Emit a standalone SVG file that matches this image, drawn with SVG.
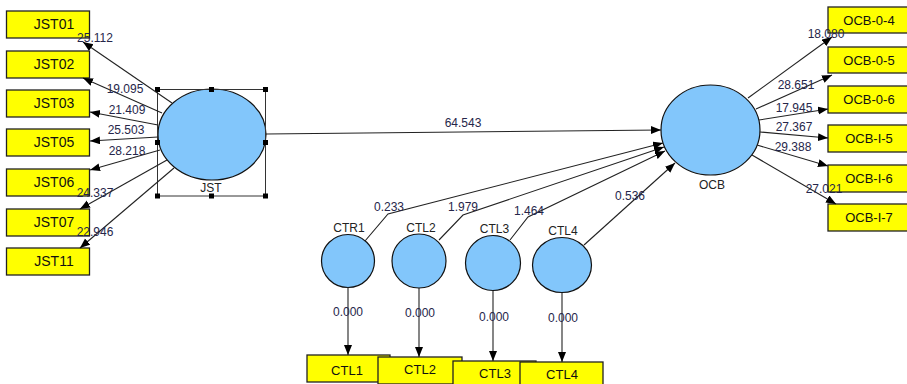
<svg xmlns="http://www.w3.org/2000/svg" width="907" height="384" viewBox="0 0 907 384">
<defs>
<marker id="ah" markerUnits="userSpaceOnUse" markerWidth="11" markerHeight="9" refX="10" refY="4" orient="auto">
<path d="M0,0 L10,4 L0,8 z" fill="#000"/>
</marker>
<style>
.box{fill:#ffff00;stroke:#222;stroke-width:1.3}
.lv{fill:#82c6fb;stroke:#111;stroke-width:1.2}
.bt{font-family:"Liberation Sans",Arial,sans-serif;font-size:13px;fill:#111;text-anchor:middle}
.jt{font-family:"Liberation Sans",Arial,sans-serif;font-size:14px;fill:#111;text-anchor:middle}
.lt{font-family:"Liberation Sans",Arial,sans-serif;font-size:12px;fill:#222;text-anchor:middle}
.nt{font-family:"Liberation Sans",Arial,sans-serif;font-size:12px;fill:#26264a;text-anchor:middle}
.ln{fill:none;stroke:#222;stroke-width:1.1;marker-end:url(#ah)}
.sel{fill:none;stroke:#333;stroke-width:1}
.hd{fill:#000}
</style>
</defs>
<rect width="907" height="384" fill="#fff"/>

<g id="JST01"><rect class="box" x="6.5" y="11" width="83" height="27"/><text class="jt" x="54" y="29">JST01</text></g>
<g id="JST02"><rect class="box" x="6.5" y="51" width="83" height="27"/><text class="jt" x="54" y="69">JST02</text></g>
<g id="JST03"><rect class="box" x="6.5" y="90" width="83" height="27"/><text class="jt" x="54" y="108">JST03</text></g>
<g id="JST05"><rect class="box" x="6.5" y="129" width="83" height="27"/><text class="jt" x="54" y="147">JST05</text></g>
<g id="JST06"><rect class="box" x="6.5" y="169" width="83" height="27"/><text class="jt" x="54" y="187">JST06</text></g>
<g id="JST07"><rect class="box" x="6.5" y="209" width="83" height="27"/><text class="jt" x="54" y="227">JST07</text></g>
<g id="JST11"><rect class="box" x="6.5" y="248" width="83" height="27"/><text class="jt" x="54" y="266">JST11</text></g>

<g id="JST">
<ellipse class="lv" cx="212" cy="134.5" rx="54" ry="45.5"/>
<rect class="sel" x="157.5" y="89.5" width="108" height="106.5"/>
<rect class="hd" x="155" y="87" width="5" height="5"/>
<rect class="hd" x="209" y="87" width="5" height="5"/>
<rect class="hd" x="263" y="87" width="5" height="5"/>
<rect class="hd" x="155" y="140" width="5" height="5"/>
<rect class="hd" x="263" y="140" width="5" height="5"/>
<rect class="hd" x="155" y="193.5" width="5" height="5"/>
<rect class="hd" x="209" y="193.5" width="5" height="5"/>
<rect class="hd" x="263" y="193.5" width="5" height="5"/>
<text class="lt" x="211" y="192">JST</text>
</g>

<g id="OCB">
<ellipse class="lv" cx="710.5" cy="130" rx="49.5" ry="45"/>
<text class="lt" x="712" y="189">OCB</text>
</g>

<g id="OCB-0-4"><rect class="box" x="828" y="7" width="82" height="26"/><text class="bt" x="869" y="25">OCB-0-4</text></g>
<g id="OCB-0-5"><rect class="box" x="828" y="47" width="82" height="26"/><text class="bt" x="869" y="65">OCB-0-5</text></g>
<g id="OCB-0-6"><rect class="box" x="828" y="86" width="82" height="27"/><text class="bt" x="869" y="104">OCB-0-6</text></g>
<g id="OCB-I-5"><rect class="box" x="828" y="125" width="82" height="27"/><text class="bt" x="869" y="143">OCB-I-5</text></g>
<g id="OCB-I-6"><rect class="box" x="828" y="165" width="82" height="27"/><text class="bt" x="869" y="183">OCB-I-6</text></g>
<g id="OCB-I-7"><rect class="box" x="828" y="204" width="82" height="27"/><text class="bt" x="869" y="222">OCB-I-7</text></g>

<g id="CTR1"><circle class="lv" cx="348" cy="261" r="26.5"/><text class="lt" x="349" y="232">CTR1</text></g>
<g id="CTL2"><ellipse class="lv" cx="419" cy="261" rx="27" ry="27"/><text class="lt" x="421" y="232">CTL2</text></g>
<g id="CTL3"><ellipse class="lv" cx="493" cy="263" rx="27.5" ry="27.5"/><text class="lt" x="494.5" y="233">CTL3</text></g>
<g id="CTL4"><ellipse class="lv" cx="562" cy="265" rx="29.5" ry="27.5"/><text class="lt" x="563" y="235">CTL4</text></g>

<g id="CTL1-box"><rect class="box" x="307" y="355" width="83" height="27"/><text class="bt" x="347" y="375">CTL1</text></g>
<g id="CTL2-box"><rect class="box" x="378" y="357" width="84" height="27"/><text class="bt" x="420" y="374">CTL2</text></g>
<g id="CTL3-box"><rect class="box" x="453" y="361" width="83" height="27"/><text class="bt" x="495" y="378">CTL3</text></g>
<g id="CTL4-box"><rect class="box" x="520" y="362" width="83" height="27"/><text class="bt" x="562" y="379">CTL4</text></g>

<g id="connectors">
<line class="ln" x1="172" y1="103" x2="83" y2="42"/>
<line class="ln" x1="162" y1="113" x2="83" y2="78"/>
<line class="ln" x1="158" y1="125" x2="90" y2="112"/>
<line class="ln" x1="158" y1="137" x2="90" y2="141"/>
<line class="ln" x1="160" y1="150" x2="90" y2="170"/>
<line class="ln" x1="167" y1="160" x2="80" y2="209"/>
<line class="ln" x1="174" y1="168" x2="80" y2="248"/>
<line class="ln" x1="266" y1="134" x2="661" y2="130"/>
<polyline class="ln" points="365,241 388,214 663,143"/>
<polyline class="ln" points="439,240 463,215 664,147"/>
<polyline class="ln" points="510,240 528,217 665,151"/>
<line class="ln" x1="584" y1="245" x2="675" y2="163"/>
<line class="ln" x1="748" y1="98" x2="832" y2="37"/>
<line class="ln" x1="756" y1="109" x2="832" y2="75"/>
<line class="ln" x1="759" y1="120" x2="828" y2="109"/>
<line class="ln" x1="760" y1="132" x2="828" y2="138"/>
<line class="ln" x1="757" y1="145" x2="828" y2="166"/>
<line class="ln" x1="752" y1="155" x2="836" y2="204"/>
<line class="ln" x1="348" y1="287" x2="348" y2="355"/>
<line class="ln" x1="419" y1="288" x2="419" y2="357"/>
<line class="ln" x1="493" y1="291" x2="493" y2="361"/>
<line class="ln" x1="562" y1="293" x2="562" y2="362"/>
<text class="nt" x="95" y="42">25.112</text>
<text class="nt" x="125" y="93">19.095</text>
<text class="nt" x="127" y="114">21.409</text>
<text class="nt" x="126" y="134">25.503</text>
<text class="nt" x="127" y="155">28.218</text>
<text class="nt" x="95" y="197">24.337</text>
<text class="nt" x="95" y="236">22.946</text>
<text class="nt" x="463" y="127">64.543</text>
<text class="nt" x="826" y="38">18.080</text>
<text class="nt" x="796" y="89">28.651</text>
<text class="nt" x="794" y="112">17.945</text>
<text class="nt" x="794" y="131">27.367</text>
<text class="nt" x="793" y="151">29.388</text>
<text class="nt" x="824" y="193">27.021</text>
<text class="nt" x="389" y="211">0.233</text>
<text class="nt" x="463" y="211">1.979</text>
<text class="nt" x="529" y="215">1.464</text>
<text class="nt" x="630" y="200">0.536</text>
<text class="nt" x="348" y="316">0.000</text>
<text class="nt" x="420" y="317">0.000</text>
<text class="nt" x="494" y="321">0.000</text>
<text class="nt" x="563" y="322">0.000</text>
</g>
</svg>
